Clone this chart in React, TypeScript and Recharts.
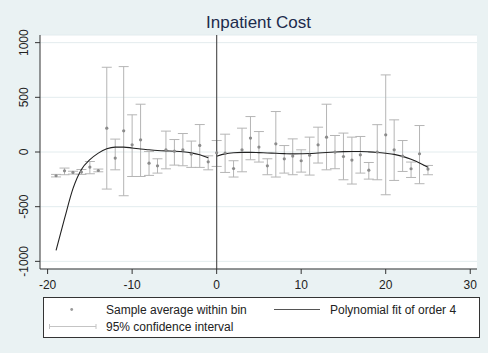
import {
  CartesianGrid,
  ComposedChart,
  ErrorBar,
  Line,
  ReferenceLine,
  Scatter,
  XAxis,
  YAxis,
} from "recharts";

// bins (running variable), bin means and 95% CI bounds
const binX = [
  -19, -18, -17, -16, -15, -14, -13, -12, -11, -10, -9, -8, -7, -6, -5, -4, -3,
  -2, -1, 0, 1, 2, 3, 4, 5, 6, 7, 8, 9, 10, 11, 12, 13, 14, 15, 16, 17, 18, 19,
  20, 21, 22, 23, 24, 25,
];
const binMean = [
  -217, -172, -187, -183, -138, -169, 218, -56, 194, 66, 111, -102, -126, 20, 8,
  20, -19, 60, -90, -7, -10, -151, 20, 127, 45, -126, 75, -62, -37, -80, -29, 66,
  136, -1, -41, -74, -26, -166, -1, 157, 20, -37, -153, -16, -156,
];
const ciLow = [
  -228, -208, -202, -205, -199, -181, -339, -163, -400, -224, -224, -214, -193,
  -154, -120, -126, -141, -141, -163, -132, -187, -229, -181, -71, -92, -208,
  -229, -193, -208, -184, -211, -101, -163, -153, -254, -293, -193, -248, -254,
  -391, -260, -178, -233, -290, -208,
];
const ciHigh = [
  -205, -147, -176, -160, -87, -156, 775, 118, 781, 340, 437, 5, -62, 191, 114,
  169, 100, 251, -35, 105, 163, -80, 218, 324, 187, -62, 370, 59, 120, 20, 136,
  227, 437, 151, 173, 136, 142, -96, 250, 705, 294, 105, -92, 242, -123,
];

// 4th-order polynomial fit, read at integer steps on each side of the cutoff
const fitLeftX = [
  -19, -18, -17, -16, -15, -14, -13, -12, -11, -10, -9, -8, -7, -6, -5, -4, -3,
  -2, -1,
];
const fitLeftY = [
  -900, -610, -335, -160, -70, -10, 30, 45, 45, 37, 27, 20, 14, 10, 7, 2, -8,
  -25, -52,
];
const fitRightX = [
  0, 1, 2, 3, 4, 5, 6, 7, 8, 9, 10, 11, 12, 13, 14, 15, 16, 17, 18, 19, 20, 21,
  22, 23, 24, 25,
];
const fitRightY = [
  -38, -17, -7, -3, -3, -6, -9, -12, -15, -17, -16, -14, -9, -4, 0, 3, 4, 4, 1,
  -4, -12, -22, -40, -67, -100, -140,
];

const xTicks = [-20, -10, 0, 10, 20, 30];
const yTicks = [-1000, -500, 0, 500, 1000];

const points = binX.map((x, i) => ({
  x,
  y: binMean[i],
  ci: [binMean[i] - ciLow[i], ciHigh[i] - binMean[i]],
}));
const fitLeft = fitLeftX.map((x, i) => ({ x, y: fitLeftY[i] }));
const fitRight = fitRightX.map((x, i) => ({ x, y: fitRightY[i] }));

const FONT = '"Liberation Sans", Arial, sans-serif';

const YTick = ({ x, y, payload }: any) => (
  <text
    x={x}
    y={y}
    transform={`rotate(-90, ${x}, ${y})`}
    textAnchor="middle"
    fontSize={12}
    fontFamily={FONT}
    fill="#222"
  >
    {payload.value}
  </text>
);

const Dot = (p: any) => <circle cx={p.cx} cy={p.cy} r={1.6} fill="#8c8c8c" />;

export default function App() {
  return (
    <div
      style={{
        position: "absolute",
        left: 0,
        top: 0,
        width: 488,
        height: 353,
        background: "#eaf2f3",
        fontFamily: FONT,
      }}
    >
      <ComposedChart
        width={488}
        height={353}
        margin={{ top: 35, right: 11, bottom: 64, left: 0 }}
      >
        <CartesianGrid
          vertical={false}
          stroke="#e3ecee"
          fill="#ffffff"
          fillOpacity={1}
        />
        <XAxis
          dataKey="x"
          type="number"
          domain={[-20.9, 30.8]}
          ticks={xTicks}
          allowDataOverflow
          height={20}
          tickSize={5}
          tickMargin={6}
          stroke="#333"
          tick={{ fill: "#222", fontSize: 12, fontFamily: FONT }}
        />
        <YAxis
          type="number"
          domain={[-1070, 1070]}
          ticks={yTicks}
          allowDataOverflow
          width={40}
          tickSize={5}
          tickMargin={7}
          stroke="#333"
          tick={<YTick />}
        />
        <Scatter
          data={points}
          dataKey="y"
          shape={<Dot />}
          isAnimationActive={false}
        >
          <ErrorBar
            dataKey="ci"
            direction="y"
            width={5}
            stroke="#b5b5b5"
            strokeWidth={1}
          />
        </Scatter>
        <Line
          data={fitLeft}
          dataKey="y"
          type="monotone"
          stroke="#222"
          strokeWidth={1.1}
          dot={false}
          isAnimationActive={false}
        />
        <Line
          data={fitRight}
          dataKey="y"
          type="monotone"
          stroke="#222"
          strokeWidth={1.1}
          dot={false}
          isAnimationActive={false}
        />
        <ReferenceLine x={0} stroke="#555" strokeWidth={1.2} />
      </ComposedChart>
      <svg
        width={488}
        height={353}
        style={{ position: "absolute", left: 0, top: 0, pointerEvents: "none" }}
        fontFamily={FONT}
      >
        <text x={258.5} y={28} textAnchor="middle" fontSize={17} fill="#1c2b4b">
          Inpatient Cost
        </text>
        <rect x={43.5} y={297.5} width={436} height={40} fill="#fff" stroke="#333" />
        <circle cx={71.7} cy={309.5} r={1.4} fill="#9a9a9a" />
        <text x={106} y={313.5} fontSize={12} fill="#222">
          Sample average within bin
        </text>
        <line x1={274} x2={320} y1={309.5} y2={309.5} stroke="#555" strokeWidth={1.1} />
        <text x={330} y={313.5} fontSize={12} fill="#222">
          Polynomial fit of order 4
        </text>
        <line x1={49.5} x2={96} y1={326.5} y2={326.5} stroke="#c4c4c4" />
        <line x1={49.5} x2={49.5} y1={324} y2={329} stroke="#c4c4c4" />
        <line x1={96} x2={96} y1={324} y2={329} stroke="#c4c4c4" />
        <text x={106} y={330.5} fontSize={12} fill="#222">
          95% confidence interval
        </text>
      </svg>
    </div>
  );
}
